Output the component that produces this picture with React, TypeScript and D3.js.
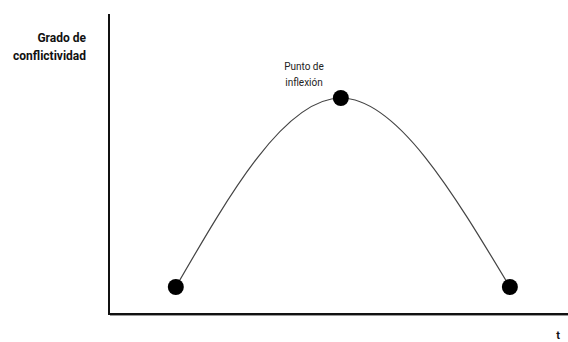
import { useEffect, useRef } from "react";
import { select, scaleLinear, line, curveNatural } from "d3";

const width = 568;
const height = 342;

// three moments of the conflict: start, turning point, end
const times = [1, 3.47, 6];
const levels = [1, 8, 1];
const yLabel = ["Grado de", "conflictividad"];
const peakLabel = ["Punto de", "inflexión"];
const xLabel = "t";

const App = () => {
  const svgRef = useRef<SVGSVGElement>(null);

  const xScale = scaleLinear().domain([0, 6.84]).range([109, 566]);
  const yScale = scaleLinear().domain([0, 11.11]).range([314, 14]);

  useEffect(() => {
    const svg = select(svgRef.current);
    svg.selectAll("*").remove();

    const data = times.map((t, i) => ({ t, v: levels[i] }));

    // axes
    svg
      .append("line")
      .attr("x1", xScale(0))
      .attr("x2", xScale(0))
      .attr("y1", yScale(11.11))
      .attr("y2", yScale(0) + 1)
      .attr("stroke", "#111")
      .attr("stroke-width", 2);
    svg
      .append("line")
      .attr("x1", xScale(0) - 1)
      .attr("x2", width)
      .attr("y1", yScale(0))
      .attr("y2", yScale(0))
      .attr("stroke", "#111")
      .attr("stroke-width", 2);
    svg
      .append("line")
      .attr("x1", xScale(0) + 1)
      .attr("x2", width)
      .attr("y1", yScale(0) + 1.5)
      .attr("y2", yScale(0) + 1.5)
      .attr("stroke", "#999")
      .attr("stroke-width", 1);

    const curve = line<{ t: number; v: number }>()
      .x((d) => xScale(d.t))
      .y((d) => yScale(d.v))
      .curve(curveNatural);

    svg
      .append("path")
      .attr("d", curve(data))
      .attr("fill", "none")
      .attr("stroke", "#444")
      .attr("stroke-width", 1.2);

    svg
      .selectAll(".dot")
      .data(data)
      .join("circle")
      .attr("class", "dot")
      .attr("cx", (d) => xScale(d.t))
      .attr("cy", (d) => yScale(d.v))
      .attr("r", 8)
      .attr("fill", "#000");

    svg
      .append("text")
      .attr("text-anchor", "end")
      .attr("font-family", "Roboto, sans-serif")
      .attr("font-weight", "bold")
      .attr("font-size", 12)
      .attr("fill", "#111")
      .selectAll("tspan")
      .data(yLabel)
      .join("tspan")
      .attr("x", 86)
      .attr("y", (d, i) => 42 + i * 18)
      .text((d) => d);

    svg
      .append("text")
      .attr("text-anchor", "middle")
      .attr("font-family", "Roboto, sans-serif")
      .attr("font-size", 10)
      .attr("fill", "#222")
      .selectAll("tspan")
      .data(peakLabel)
      .join("tspan")
      .attr("x", 304)
      .attr("y", (d, i) => 70 + i * 16)
      .text((d) => d);

    svg
      .append("text")
      .attr("x", 558)
      .attr("y", 339)
      .attr("text-anchor", "middle")
      .attr("font-family", "Roboto, sans-serif")
      .attr("font-weight", "bold")
      .attr("font-size", 11)
      .attr("fill", "#111")
      .text(xLabel);
  }, []);

  return (
    <svg
      ref={svgRef}
      width={width}
      height={height}
      style={{ position: "fixed", left: 0, top: 0, background: "#fff" }}
    />
  );
};

export default App;
